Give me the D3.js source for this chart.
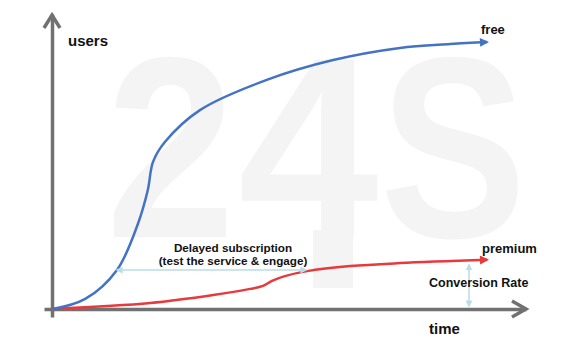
<!DOCTYPE html>
<html>
<head>
<meta charset="utf-8">
<script src="https://cdn.jsdelivr.net/npm/d3@7"></script>
<style>
  body { margin: 0; background: #fff; }
  svg { display: block; font-family: "Liberation Sans", Arial, sans-serif; font-weight: bold; }
</style>
</head>
<body>
<svg id="chart" width="583" height="355"></svg>
<script>
// time (0-100) and users (0-100)
const freeTime  = [0, 6.8, 13.5, 17.9, 20.0, 21.1, 23.6, 31.0, 45.1, 59.1, 73.2, 83.8, 91.6];
const freeUsers = [0, 3.4, 13.2, 28.7, 40.2, 49.7, 56.4, 67.2, 77.4, 84.1, 88.2, 89.5, 90.2];
const premiumTime  = [0, 20.5, 33.8, 41.6, 44.3, 46.2, 48.9, 53.6, 62.7, 73.2, 91.6];
const premiumUsers = [0, 2.0, 4.7, 6.8, 7.8, 9.5, 11.1, 12.8, 14.5, 15.5, 16.6];

const svg = d3.select('#chart');

// scales
const x = d3.scaleLinear().domain([0, 100]).range([53, 527]);
const y = d3.scaleLinear().domain([0, 100]).range([309, 13]);

// defs: arrowheads
const defs = svg.append('defs');
function arrow(id, color, w, h) {
    defs.append('marker')
        .attr('id', id)
        .attr('viewBox', '0 0 10 10')
        .attr('refX', 8).attr('refY', 5)
        .attr('markerWidth', w).attr('markerHeight', h)
        .attr('markerUnits', 'userSpaceOnUse')
        .attr('orient', 'auto-start-reverse')
        .append('path')
        .attr('d', 'M0,0 L10,5 L0,10 Z')
        .attr('fill', color);
}
arrow('arrBlue', '#4472c4', 10, 9);
arrow('arrRed', '#e8393c', 10, 9);
arrow('arrLight', '#b9dde8', 7, 7);

// watermark "24S"
const wm = svg.append('g').attr('fill', '#f4f4f4').attr('font-size', 258)
    .attr('font-family', '"Liberation Sans", Arial, sans-serif').attr('font-weight', 'bold');
wm.append('text').attr('transform', 'translate(106,237) scale(0.9,1)').text('2');
wm.append('text').attr('transform', 'translate(238,237) scale(0.98,1)').text('4');
wm.append('rect').attr('x', 313).attr('y', 230).attr('width', 40).attr('height', 58);
wm.append('text').attr('transform', 'translate(380,237) scale(0.85,1)').text('S');

// axes (no ticks), drawn as gray lines with open chevrons
const axisColor = '#717171';
const xAxis = d3.axisBottom(d3.scaleLinear().domain([0, 1]).range([44, 526])).tickValues([]).tickSizeOuter(0);
const yAxis = d3.axisLeft(d3.scaleLinear().domain([0, 1]).range([317, 14])).tickValues([]).tickSizeOuter(0);
svg.append('g').attr('transform', `translate(0,${y(0)})`).call(xAxis)
    .select('.domain').attr('stroke', axisColor).attr('stroke-width', 3.5);
svg.append('g').attr('transform', `translate(${x(0) - 1},0)`).call(yAxis)
    .select('.domain').attr('stroke', axisColor).attr('stroke-width', 3.5);

svg.append('path')
    .attr('d', `M512,${y(0) - 8} L526,${y(0)} L512,${y(0) + 8}`)
    .attr('fill', 'none').attr('stroke', axisColor).attr('stroke-width', 3.5);
svg.append('path')
    .attr('d', `M${x(0) - 9},28 L${x(0) - 1},15 L${x(0) + 7},28`)
    .attr('fill', 'none').attr('stroke', axisColor).attr('stroke-width', 3.5);

// curves
const line = d3.line()
    .x(d => x(d[0]))
    .y(d => y(d[1]))
    .curve(d3.curveCatmullRom.alpha(0.5));

const freeData = d3.zip(freeTime, freeUsers);
const premiumData = d3.zip(premiumTime, premiumUsers);

svg.append('path').datum(premiumData)
    .attr('d', line)
    .attr('fill', 'none').attr('stroke', '#e8393c').attr('stroke-width', 2.5)
    .attr('marker-end', 'url(#arrRed)');

svg.append('path').datum(freeData)
    .attr('d', line)
    .attr('fill', 'none').attr('stroke', '#4472c4').attr('stroke-width', 2.5)
    .attr('marker-end', 'url(#arrBlue)');

// annotations
const light = '#b9dde8';
svg.append('line')
    .attr('x1', 117).attr('y1', 270).attr('x2', 306).attr('y2', 270)
    .attr('stroke', light).attr('stroke-width', 1.5)
    .attr('marker-start', 'url(#arrLight)').attr('marker-end', 'url(#arrLight)');
svg.append('line')
    .attr('x1', 469).attr('y1', y(premiumUsers[premiumUsers.length - 1]) + 5)
    .attr('x2', 469).attr('y2', y(0) - 3)
    .attr('stroke', light).attr('stroke-width', 1.5)
    .attr('marker-start', 'url(#arrLight)').attr('marker-end', 'url(#arrLight)');

// labels
function label(txt, lx, ly, size, anchor) {
    svg.append('text').attr('x', lx).attr('y', ly)
        .attr('font-size', size).attr('fill', '#111')
        .attr('text-anchor', anchor || 'start')
        .text(txt);
}
label('users', 68, 46, 15);
label('time', 429, 334, 15);
label('free', 481, 34, 13);
label('premium', 482, 253, 13);
label('Conversion Rate', 429, 287, 12.5);
label('Delayed subscription', 233, 252, 11.7, 'middle');
label('(test the service & engage)', 233, 265, 11.7, 'middle');
</script>
</body>
</html>
